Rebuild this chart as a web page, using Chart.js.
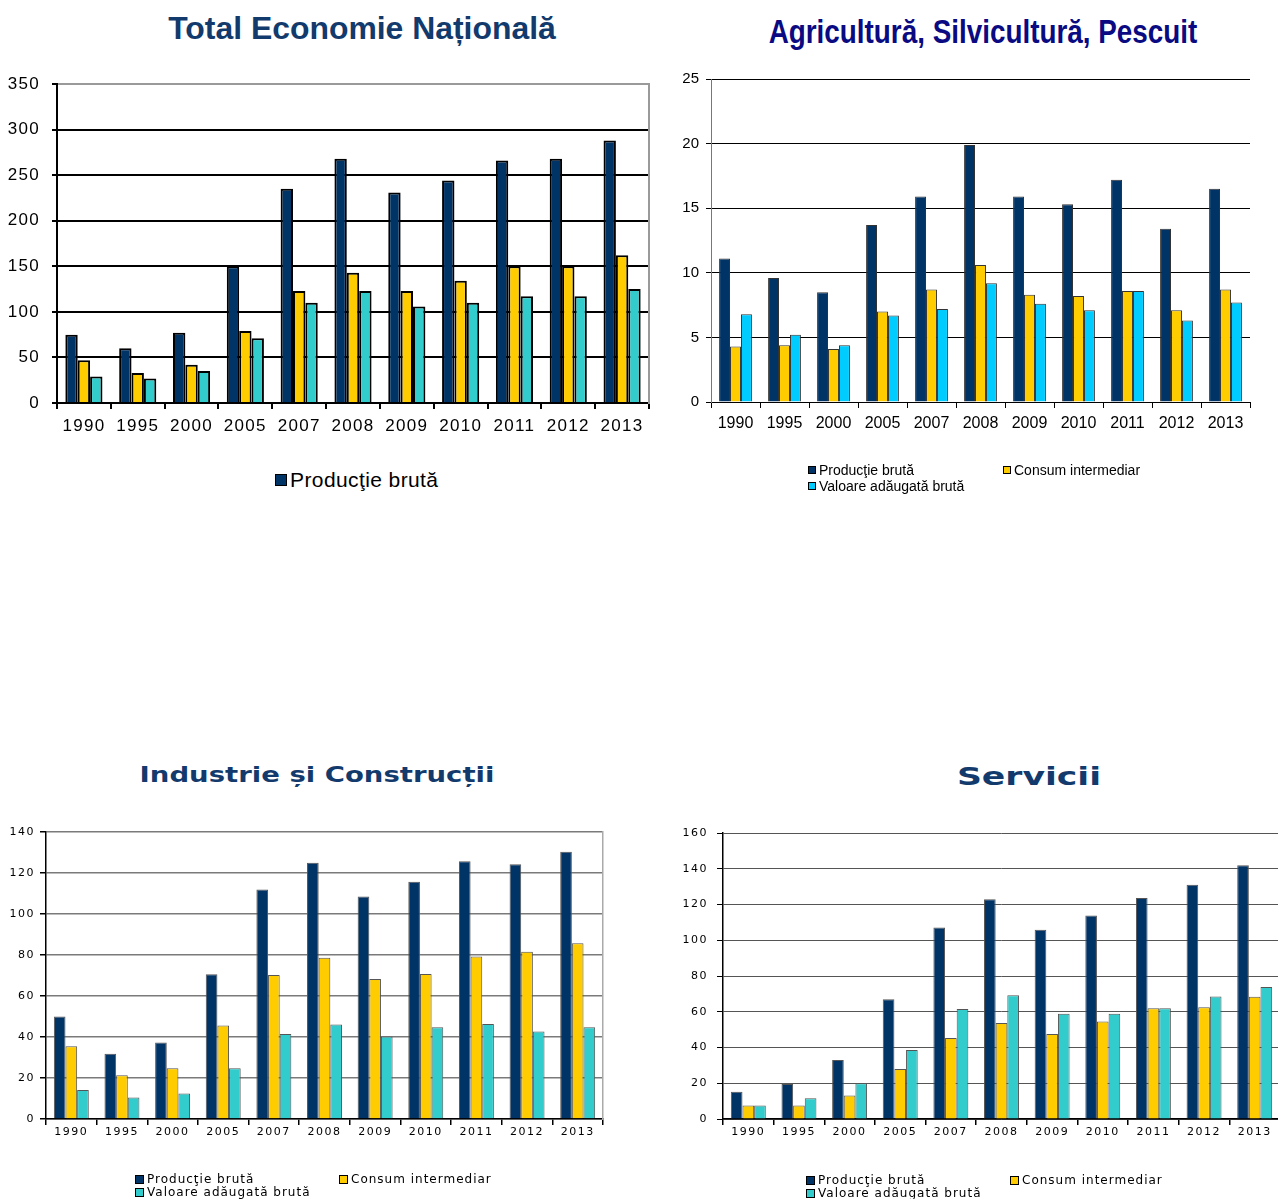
<!DOCTYPE html>
<html>
<head>
<meta charset="utf-8">
<script src="https://cdn.jsdelivr.net/npm/chart.js@4.4.1/dist/chart.umd.min.js"></script>
<style>
    body { margin: 0; width: 1278px; height: 1199px; overflow: hidden; background: #fff; position: relative; }
    canvas { position: absolute; }
    .title { position: absolute; white-space: nowrap; transform: translate(-50%, -50%); font-weight: bold; }
    .leg { position: absolute; white-space: nowrap; display: flex; align-items: center; }
    .leg span.box { display: inline-block; border: 1px solid #000; box-sizing: border-box; margin-right: 3px; }
</style>
</head>
<body>

<div class="title" data-w="388" style="left:362px; top:28px; font: bold 32px 'Liberation Sans', Arial; color:#123a6c;">Total Economie Națională</div>
<div class="title" data-w="429" style="left:983px; top:32px; font: bold 33px 'Liberation Sans', Arial; color:#0a0a82;">Agricultură, Silvicultură, Pescuit</div>
<div class="title" data-w="355" style="left:317px; top:774px; font: bold 22px 'DejaVu Sans'; color:#123a6c;">Industrie și Construcții</div>
<div class="title" data-w="144" style="left:1029px; top:776px; font: bold 25px 'DejaVu Sans'; color:#123a6c;">Servicii</div>

<canvas id="c1" style="left:0px; top:0px;"></canvas>
<canvas id="c2" style="left:660px; top:0px;"></canvas>
<canvas id="c3" style="left:0px; top:800px;"></canvas>
<canvas id="c4" style="left:660px; top:800px;"></canvas>

<script>
var years = ['1990', '1995', '2000', '2005', '2007', '2008', '2009', '2010', '2011', '2012', '2013'];
var seriesNames = ['Producţie brută', 'Consum intermediar', 'Valoare adăugată brută'];

// Total Economie Nationala
var totalProductie = [75, 60, 77, 150, 235, 268, 231, 244, 266, 268, 288];
var totalConsum = [47, 33, 42, 79, 123, 143, 123, 134, 150, 150, 162];
var totalValoare = [29, 27, 35, 71, 110, 123, 106, 110, 117, 117, 125];

// Agricultura, Silvicultura, Pescuit
var agriProductie = [11.1, 9.6, 8.5, 13.7, 15.9, 19.9, 15.9, 15.3, 17.2, 13.4, 16.5];
var agriConsum = [4.3, 4.4, 4.1, 7.0, 8.7, 10.6, 8.3, 8.2, 8.6, 7.1, 8.7];
var agriValoare = [6.8, 5.2, 4.4, 6.7, 7.2, 9.2, 7.6, 7.1, 8.6, 6.3, 7.7];

// Industrie si Constructii
var indProductie = [50, 31.8, 37.3, 70.6, 112, 125, 108.5, 115.7, 125.7, 124.3, 130.4];
var indConsum = [35.5, 21.3, 24.7, 45.6, 70.2, 78.7, 68.3, 70.7, 79.3, 81.6, 85.7];
var indValoare = [14.1, 10.5, 12.5, 24.8, 41.5, 46.1, 40.2, 44.8, 46.4, 42.7, 44.8];

// Servicii
var servProductie = [15.3, 19.6, 33, 67, 107.2, 122.9, 105.9, 113.9, 123.6, 131.1, 141.9];
var servConsum = [7.6, 7.6, 13.2, 28, 45.3, 53.7, 47.6, 54.6, 61.9, 62.5, 68.4];
var servValoare = [7.6, 11.6, 20, 38.6, 61.5, 69.2, 58.9, 58.9, 61.9, 68.6, 73.8];

var navy = '#003366';
var gold = '#FFCC00';
var teal = '#33CCCC';
var sky = '#00CCFF';

var spacingPlugin = {
    id: 'spacing',
    beforeDraw: function(chart, args, opts) {
        chart.ctx.letterSpacing = opts.px || '0px';
    }
};

function makeChart(id, c) {
    var canvas = document.getElementById(id);
    canvas.width = c.w;
    canvas.height = c.h;
    canvas.style.width = c.w + 'px';
    canvas.style.height = c.h + 'px';

    var colors = [navy, gold, c.third];
    var values = [c.prod, c.cons, c.val];
    var datasets = [];
    for (var i = 0; i < 3; i++) {
        datasets.push({
            label: seriesNames[i],
            data: values[i],
            backgroundColor: colors[i],
            borderColor: c.barBorder,
            borderWidth: c.barBorderWidth,
            categoryPercentage: c.catPct,
            barPercentage: 1.0
        });
    }

    var scales = {
        x: {
            grid: { display: true, drawOnChartArea: false, offset: true, tickLength: 6, tickColor: '#000', lineWidth: c.axisWidth },
            border: { display: true, color: '#000', width: c.axisWidth },
            ticks: { color: '#000', font: c.xFont, padding: c.xPad, maxRotation: 0, autoSkip: false },
            afterFit: function(s) { s.height = c.xH; }
        },
        y: {
            min: 0, max: c.max,
            grid: { color: c.gridColor, lineWidth: c.gridWidth, tickLength: c.yTick, tickColor: '#000' },
            border: { display: true, color: c.yAxisColor, width: c.axisWidth },
            ticks: { stepSize: c.step, color: '#000', font: c.yFont, padding: c.yPad },
            afterFit: function(s) { s.width = c.yW; }
        }
    };
    if (c.rightBorder) {
        // right edge frame of the plot area
        scales.yr = {
            position: 'right', min: 0, max: c.max,
            grid: { display: false },
            border: { display: true, color: c.rightBorder, width: c.axisWidth },
            ticks: { display: false },
            afterFit: function(s) { s.width = 0; }
        };
    }

    return new Chart(canvas, {
        type: 'bar',
        data: { labels: years, datasets: datasets },
        options: {
            responsive: false,
            animation: false,
            layout: { padding: c.pad },
            plugins: {
                legend: { display: false },
                tooltip: { enabled: false },
                spacing: { px: c.spacing }
            },
            scales: scales
        },
        plugins: [spacingPlugin]
    });
}

function makeLegend(c) {
    var colors = [navy, gold, c.third];
    for (var i = 0; i < c.items.length; i++) {
        var it = c.items[i];
        var d = document.createElement('div');
        d.className = 'leg';
        d.style.left = it[1] + 'px';
        d.style.top = it[2] + 'px';
        d.style.height = '0px';
        d.style.font = c.font;
        d.style.letterSpacing = c.spacing;
        var b = document.createElement('span');
        b.className = 'box';
        b.style.width = c.box + 'px';
        b.style.height = c.box + 'px';
        b.style.background = colors[it[0]];
        d.appendChild(b);
        var t = document.createElement('span');
        t.textContent = seriesNames[it[0]];
        d.appendChild(t);
        document.body.appendChild(d);
    }
}

// squeeze/stretch titles to the width seen in the picture
function fitTitles() {
    var titles = document.querySelectorAll('.title');
    for (var i = 0; i < titles.length; i++) {
        var el = titles[i];
        var k = parseFloat(el.getAttribute('data-w')) / el.offsetWidth;
        el.style.transform = 'translate(-50%, -50%) scaleX(' + k.toFixed(3) + ')';
    }
}

makeChart('c1', {
    w: 660, h: 450, pad: { left: 0, right: 11, top: 84, bottom: 0 },
    yW: 57, xH: 47, max: 350, step: 50,
    prod: totalProductie, cons: totalConsum, val: totalValoare, third: teal,
    barBorder: '#000', barBorderWidth: 2, catPct: 0.69,
    gridColor: function(ctx) { return ctx.tick && ctx.tick.value === 350 ? '#9a9a9a' : '#000'; },
    gridWidth: 2, axisWidth: 2, yAxisColor: '#000', rightBorder: '#9a9a9a', yTick: 5,
    xFont: { family: "'Liberation Sans', Arial", size: 17 }, xPad: 7,
    yFont: { family: "'Liberation Sans', Arial", size: 17 }, yPad: 12,
    spacing: '1.3px'
});

makeChart('c2', {
    w: 618, h: 440, pad: { left: 0, right: 28, top: 79, bottom: 0 },
    yW: 51, xH: 38, max: 25, step: 5,
    prod: agriProductie, cons: agriConsum, val: agriValoare, third: sky,
    barBorder: '#333', barBorderWidth: 1, catPct: 0.67,
    gridColor: '#000', gridWidth: 1, axisWidth: 1, yAxisColor: '#777', rightBorder: null, yTick: 5,
    xFont: { family: "'Liberation Sans', Arial", size: 16 }, xPad: 6,
    yFont: { family: "'Liberation Sans', Arial", size: 15 }, yPad: 7,
    spacing: '0px'
});

makeChart('c3', {
    w: 620, h: 360, pad: { left: 0, right: 17, top: 32, bottom: 0 },
    yW: 46, xH: 41, max: 140, step: 20,
    prod: indProductie, cons: indConsum, val: indValoare, third: teal,
    barBorder: '#555', barBorderWidth: 1, catPct: 0.69,
    gridColor: '#7a7a7a', gridWidth: 1.5, axisWidth: 1.5, yAxisColor: '#000', rightBorder: '#aaaaaa', yTick: 6,
    xFont: { family: "'DejaVu Sans'", size: 11 }, xPad: 1,
    yFont: { family: "'DejaVu Sans'", size: 11 }, yPad: 5,
    spacing: '1.5px'
});

makeChart('c4', {
    w: 620, h: 360, pad: { left: 0, right: 0, top: 33, bottom: 0 },
    yW: 63, xH: 41, max: 160, step: 20,
    prod: servProductie, cons: servConsum, val: servValoare, third: teal,
    barBorder: '#555', barBorderWidth: 1, catPct: 0.69,
    gridColor: '#555', gridWidth: 1, axisWidth: 1.5, yAxisColor: '#000', rightBorder: null, yTick: 6,
    xFont: { family: "'DejaVu Sans'", size: 11 }, xPad: 1,
    yFont: { family: "'DejaVu Sans'", size: 11 }, yPad: 9,
    spacing: '1.5px'
});

makeLegend({
    font: "21px 'Liberation Sans', Arial", spacing: '0.4px', box: 12, third: teal,
    items: [[0, 275, 480]]
});
makeLegend({
    font: "14px 'Liberation Sans', Arial", spacing: '0px', box: 8, third: sky,
    items: [[0, 808, 470], [1, 1003, 470], [2, 808, 486]]
});
makeLegend({
    font: "12px 'DejaVu Sans'", spacing: '1px', box: 9, third: teal,
    items: [[0, 135, 1179], [1, 339, 1179], [2, 135, 1192]]
});
makeLegend({
    font: "12px 'DejaVu Sans'", spacing: '1px', box: 9, third: teal,
    items: [[0, 806, 1180], [1, 1010, 1180], [2, 806, 1193]]
});

fitTitles();
</script>
</body>
</html>
